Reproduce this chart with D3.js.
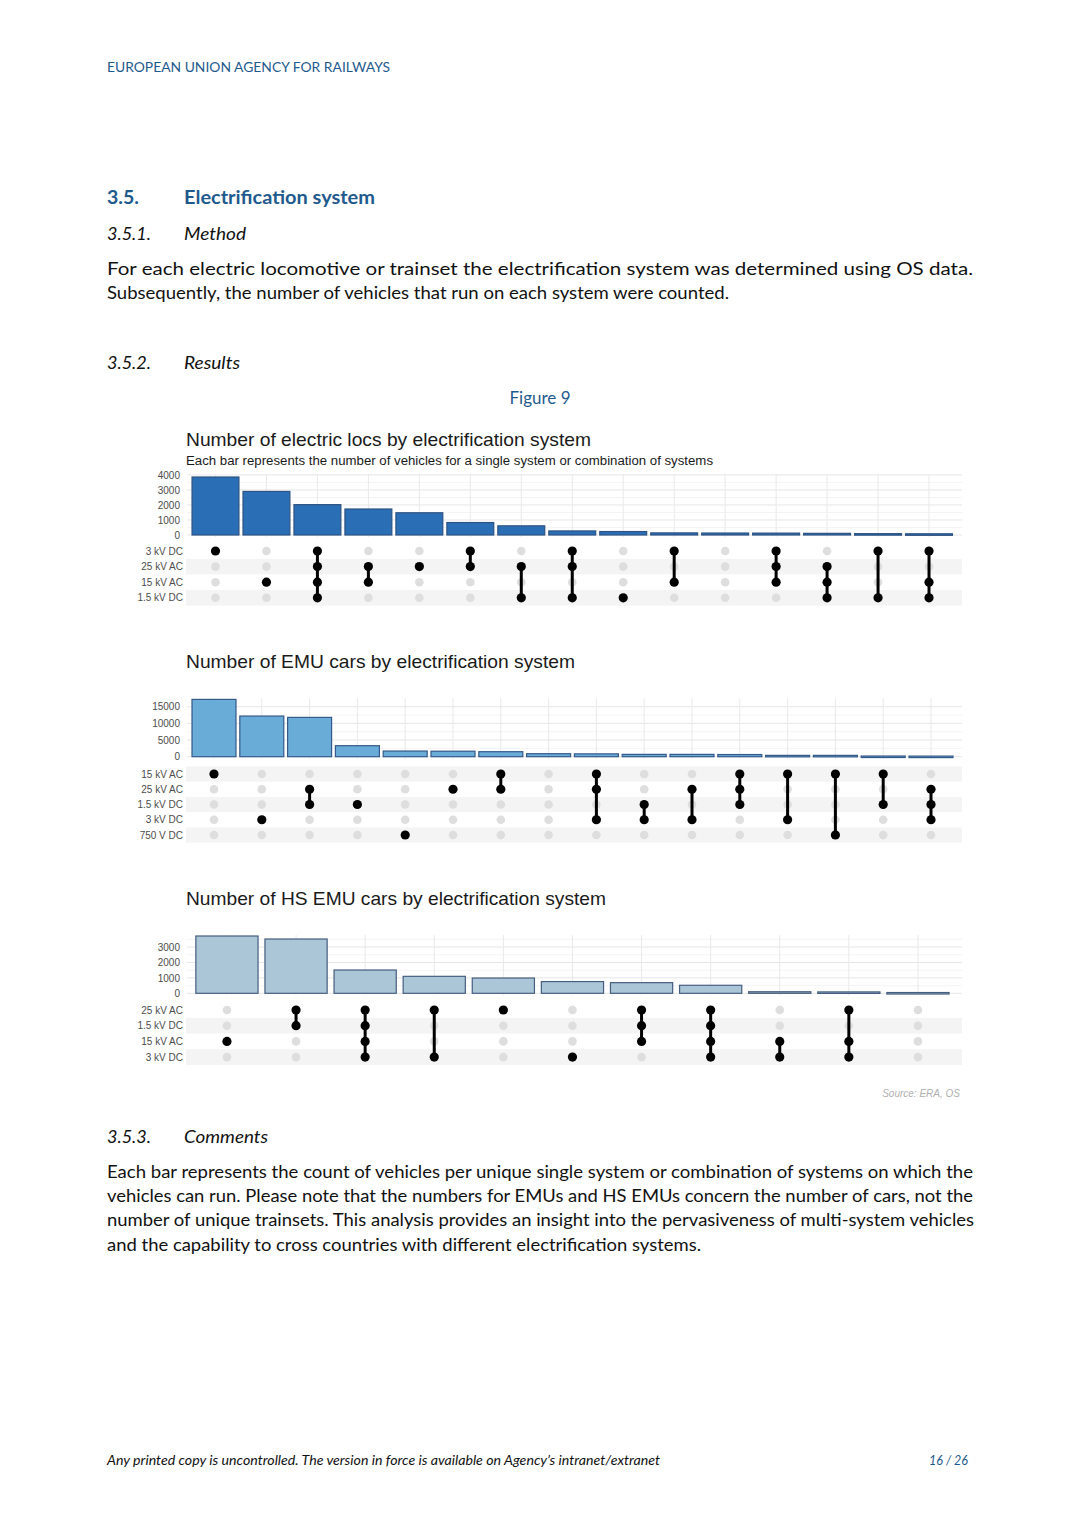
<!DOCTYPE html>
<html>
<head>
<meta charset="utf-8">
<script src="https://cdn.jsdelivr.net/npm/d3@7"></script>
<style>
  body { margin: 0; background: #fff; }
</style>
</head>
<body>
<div id="page"></div>
<script>
// DATA

// Chart 1: electric locos
const locSystems = ["3 kV DC", "25 kV AC", "15 kV AC", "1.5 kV DC"];
const locCounts = [3860, 2900, 2020, 1730, 1480, 830, 610, 270, 230, 140, 130, 125, 110, 90, 80];
const locSets = [
  ["3 kV DC"],
  ["15 kV AC"],
  ["3 kV DC", "25 kV AC", "15 kV AC", "1.5 kV DC"],
  ["25 kV AC", "15 kV AC"],
  ["25 kV AC"],
  ["3 kV DC", "25 kV AC"],
  ["25 kV AC", "1.5 kV DC"],
  ["3 kV DC", "25 kV AC", "1.5 kV DC"],
  ["1.5 kV DC"],
  ["3 kV DC", "15 kV AC"],
  [],
  ["3 kV DC", "25 kV AC", "15 kV AC"],
  ["25 kV AC", "15 kV AC", "1.5 kV DC"],
  ["3 kV DC", "1.5 kV DC"],
  ["3 kV DC", "15 kV AC", "1.5 kV DC"],
];
const locTicks = [0, 1000, 2000, 3000, 4000];

// Chart 2: EMU cars
const emuSystems = ["15 kV AC", "25 kV AC", "1.5 kV DC", "3 kV DC", "750 V DC"];
const emuCounts = [17200, 12200, 11800, 3300, 1700, 1650, 1500, 900, 850, 700, 700, 650, 400, 400, 200, 180];
const emuSets = [
  ["15 kV AC"],
  ["3 kV DC"],
  ["25 kV AC", "1.5 kV DC"],
  ["1.5 kV DC"],
  ["750 V DC"],
  ["25 kV AC"],
  ["15 kV AC", "25 kV AC"],
  [],
  ["15 kV AC", "25 kV AC", "3 kV DC"],
  ["1.5 kV DC", "3 kV DC"],
  ["25 kV AC", "3 kV DC"],
  ["15 kV AC", "25 kV AC", "1.5 kV DC"],
  ["15 kV AC", "3 kV DC"],
  ["15 kV AC", "750 V DC"],
  ["15 kV AC", "1.5 kV DC"],
  ["25 kV AC", "1.5 kV DC", "3 kV DC"],
];
const emuTicks = [0, 5000, 10000, 15000];

// Chart 3: HS EMU cars
const hsSystems = ["25 kV AC", "1.5 kV DC", "15 kV AC", "3 kV DC"];
const hsCounts = [3715, 3520, 1510, 1100, 990, 760, 690, 520, 100, 90, 50];
const hsSets = [
  ["15 kV AC"],
  ["25 kV AC", "1.5 kV DC"],
  ["25 kV AC", "1.5 kV DC", "15 kV AC", "3 kV DC"],
  ["25 kV AC", "3 kV DC"],
  ["25 kV AC"],
  ["3 kV DC"],
  ["25 kV AC", "1.5 kV DC", "15 kV AC"],
  ["25 kV AC", "1.5 kV DC", "15 kV AC", "3 kV DC"],
  ["15 kV AC", "3 kV DC"],
  ["25 kV AC", "15 kV AC", "3 kV DC"],
  [],
];
const hsTicks = [0, 1000, 2000, 3000];

// Page texts
const para1 = [
  "For each electric locomotive or trainset the electrification system was determined using OS data.",
  "Subsequently, the number of vehicles that run on each system were counted.",
];
const para2 = [
  "Each bar represents the count of vehicles per unique single system or combination of systems on which the",
  "vehicles can run. Please note that the numbers for EMUs and HS EMUs concern the number of cars, not the",
  "number of unique trainsets. This analysis provides an insight into the pervasiveness of multi-system vehicles",
  "and the capability to cross countries with different electrification systems.",
];

// SETUP
const W = 1080, H = 1524;
const blue = "#1f5a8e";
const bodyFont = "Lato, 'Open Sans', sans-serif";
const chartFont = "'Liberation Sans', Arial, sans-serif";

const svg = d3.select("#page").append("svg")
  .attr("width", W).attr("height", H)
  .style("display", "block");

// helper for a line of text squeezed/stretched to a known width
function textLine(x, y, str, opts) {
  const t = svg.append("text")
    .attr("x", x).attr("y", y)
    .attr("font-family", opts.family || bodyFont)
    .attr("font-size", opts.size)
    .attr("fill", opts.color || "#111")
    .text(str);
  if (opts.weight) t.attr("font-weight", opts.weight);
  if (opts.italic) t.attr("font-style", "italic");
  if (opts.anchor) t.attr("text-anchor", opts.anchor);
  if (opts.len) t.attr("textLength", opts.len).attr("lengthAdjust", "spacingAndGlyphs");
  return t;
}

// Header and section text
textLine(107, 72, "EUROPEAN UNION AGENCY FOR RAILWAYS", { size: 13, color: blue, len: 283 });
textLine(107, 204, "3.5.", { size: 19, color: blue, weight: "bold", len: 32 });
textLine(184, 204, "Electrification system", { size: 19, color: blue, weight: "bold", len: 191 });
textLine(107, 240, "3.5.1.", { size: 18, italic: true, len: 44 });
textLine(184, 240, "Method", { size: 18, italic: true, len: 62 });
textLine(107, 275, para1[0], { size: 17, len: 866 });
textLine(107, 299, para1[1], { size: 17, len: 622 });
textLine(107, 369, "3.5.2.", { size: 18, italic: true, len: 44 });
textLine(184, 369, "Results", { size: 18, italic: true, len: 56 });
textLine(540, 404, "Figure 9", { size: 17, color: blue, anchor: "middle" });

textLine(107, 1143, "3.5.3.", { size: 18, italic: true, len: 44 });
textLine(184, 1143, "Comments", { size: 18, italic: true, len: 84 });
const p2Len = [866, 866, 867, 594];
para2.forEach((l, i) => textLine(107, 1178 + i * 24.2, l, { size: 17, len: p2Len[i] }));

textLine(107, 1465, "Any printed copy is uncontrolled. The version in force is available on Agency\u2019s intranet/extranet",
  { size: 12.5, italic: true, len: 553 });
textLine(968, 1465, "16 / 26", { size: 12.5, italic: true, color: blue, anchor: "end" });

// Draws one upset-style chart: bars on top, membership matrix below
function upset(cfg) {
  const g = svg.append("g");
  const x = d3.scaleBand()
    .domain(d3.range(cfg.counts.length))
    .range(cfg.xRange)
    .paddingInner(cfg.pad).paddingOuter(cfg.pad / 2);
  const y = d3.scaleLinear().domain([0, cfg.yMax]).range([cfg.yBase, cfg.yTop]);
  const rowY = d3.scalePoint().domain(cfg.systems)
    .range([cfg.rowTop, cfg.rowTop + cfg.rowStep * (cfg.systems.length - 1)]);

  // titles
  textLine(186, cfg.titleY, cfg.title, { size: 18.5, family: chartFont, color: "#1a1a1a", len: cfg.titleLen });
  if (cfg.subtitle) {
    textLine(186, cfg.titleY + 19, cfg.subtitle, { size: 12.5, family: chartFont, color: "#1a1a1a", len: cfg.subLen });
  }

  const left = 187, right = 962;
  // minor gridlines
  const minor = d3.range(cfg.minorStep, cfg.yMax, cfg.minorStep * 2);
  g.append("g").selectAll("line").data(minor).join("line")
    .attr("x1", left).attr("x2", right)
    .attr("y1", d => y(d)).attr("y2", d => y(d))
    .attr("stroke", "#f1f1f1").attr("stroke-width", 0.8);
  // major gridlines
  g.append("g").selectAll("line").data(cfg.ticks).join("line")
    .attr("x1", left).attr("x2", right)
    .attr("y1", d => y(d)).attr("y2", d => y(d))
    .attr("stroke", "#e6e6e6").attr("stroke-width", 1);
  // vertical gridlines
  g.append("g").selectAll("line").data(x.domain()).join("line")
    .attr("x1", d => x(d) + x.bandwidth() / 2).attr("x2", d => x(d) + x.bandwidth() / 2)
    .attr("y1", cfg.yTop).attr("y2", cfg.yBase + 2)
    .attr("stroke", "#e9e9e9").attr("stroke-width", 1);

  // y axis (ticks only, no domain line)
  const yAxis = g.append("g")
    .attr("transform", "translate(184,0)")
    .call(d3.axisLeft(y).tickValues(cfg.ticks).tickSize(0).tickPadding(4).tickFormat(d3.format("d")));
  yAxis.select(".domain").remove();
  yAxis.selectAll("text")
    .attr("font-family", chartFont).attr("font-size", 10).attr("fill", "#4d4d4d");

  // bars
  g.append("g").selectAll("rect").data(cfg.counts).join("rect")
    .attr("x", (d, i) => x(i))
    .attr("width", x.bandwidth())
    .attr("y", d => y(d))
    .attr("height", d => Math.max(y(0) - y(d), 1.5))
    .attr("fill", cfg.fill)
    .attr("stroke", cfg.stroke)
    .attr("stroke-width", 1.2);

  // row stripes
  const n = cfg.systems.length;
  g.append("g").selectAll("rect").data(cfg.systems.filter((s, i) => (n - 1 - i) % 2 === 0)).join("rect")
    .attr("x", left - 1).attr("width", right - left + 1)
    .attr("y", d => rowY(d) - cfg.rowStep / 2)
    .attr("height", cfg.rowStep)
    .attr("fill", "#f4f4f4");

  // row labels
  g.append("g").selectAll("text").data(cfg.systems).join("text")
    .attr("x", 183).attr("y", d => rowY(d))
    .attr("dy", "0.35em")
    .attr("text-anchor", "end")
    .attr("font-family", chartFont).attr("font-size", 10).attr("fill", "#4d4d4d")
    .text(d => d);

  // matrix: grey dots for every cell
  const cells = [];
  cfg.sets.forEach((set, i) => cfg.systems.forEach(s => cells.push({ i, s, on: set.includes(s) })));
  g.append("g").selectAll("circle").data(cells.filter(c => !c.on)).join("circle")
    .attr("cx", d => x(d.i) + x.bandwidth() / 2)
    .attr("cy", d => rowY(d.s))
    .attr("r", 4.3)
    .attr("fill", "#dedede");

  // connecting lines
  g.append("g").selectAll("line").data(cfg.sets.map((set, i) => ({ set, i })).filter(d => d.set.length > 1)).join("line")
    .attr("x1", d => x(d.i) + x.bandwidth() / 2).attr("x2", d => x(d.i) + x.bandwidth() / 2)
    .attr("y1", d => d3.min(d.set, s => rowY(s)))
    .attr("y2", d => d3.max(d.set, s => rowY(s)))
    .attr("stroke", "#000").attr("stroke-width", 3);

  // black dots
  g.append("g").selectAll("circle").data(cells.filter(c => c.on)).join("circle")
    .attr("cx", d => x(d.i) + x.bandwidth() / 2)
    .attr("cy", d => rowY(d.s))
    .attr("r", 4.6)
    .attr("fill", "#000");
}

upset({
  title: "Number of electric locs by electrification system", titleY: 446, titleLen: 405,
  subtitle: "Each bar represents the number of vehicles for a single system or combination of systems", subLen: 527,
  systems: locSystems, counts: locCounts, sets: locSets, ticks: locTicks,
  xRange: [190, 954.5], pad: 0.08,
  yMax: 4060, yBase: 535, yTop: 474, minorStep: 500,
  rowTop: 551, rowStep: 15.6,
  fill: "#2a6fb5", stroke: "#2d5283",
});

upset({
  title: "Number of EMU cars by electrification system", titleY: 668, titleLen: 389,
  systems: emuSystems, counts: emuCounts, sets: emuSets, ticks: emuTicks,
  xRange: [190.1, 954.9], pad: 0.08,
  yMax: 17500, yBase: 756.7, yTop: 698.4, minorStep: 2500,
  rowTop: 774, rowStep: 15.25,
  fill: "#69acd8", stroke: "#35598a",
});

upset({
  title: "Number of HS EMU cars by electrification system", titleY: 905, titleLen: 420,
  systems: hsSystems, counts: hsCounts, sets: hsSets, ticks: hsTicks,
  xRange: [192.4, 952.5], pad: 0.1,
  yMax: 3780, yBase: 993.3, yTop: 935, minorStep: 500,
  rowTop: 1010, rowStep: 15.7,
  fill: "#abc6d6", stroke: "#465e80",
});

textLine(960, 1097, "Source: ERA, OS", { size: 10, family: chartFont, italic: true, color: "#b0b0b0", anchor: "end" });
</script>
</body>
</html>
